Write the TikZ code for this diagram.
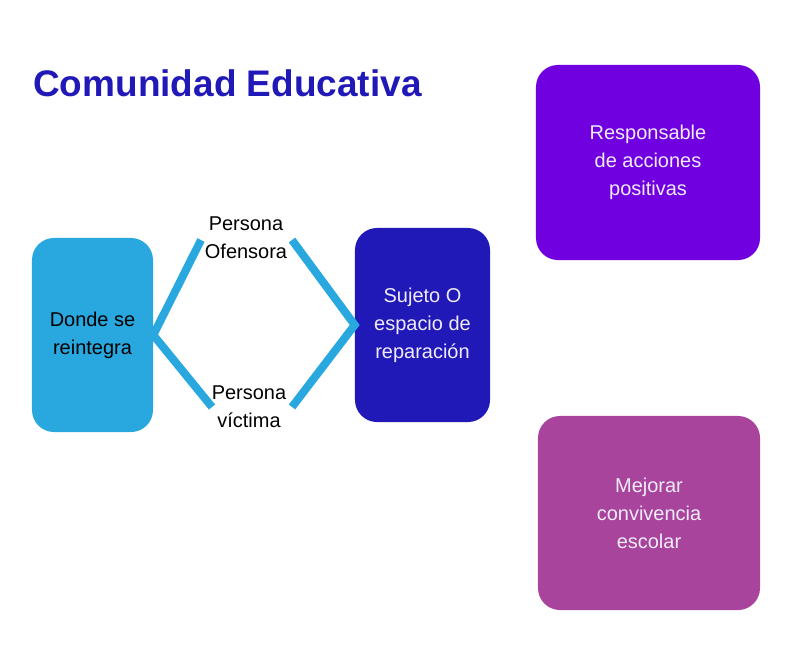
\documentclass[tikz,border=0pt]{standalone}
\usepackage{fontspec}
\setmainfont{Liberation Sans}
\usetikzlibrary{positioning}
\definecolor{ceblue}{HTML}{29A8E0}
\definecolor{ceindigo}{HTML}{2118B8}
\definecolor{ceviolet}{HTML}{7000E0}
\definecolor{ceplum}{HTML}{A8449C}
\definecolor{cetext}{HTML}{F0ECFA}

\begin{document}
\begin{tikzpicture}[
  x=0.025cm, y=-0.025cm,
  card/.style={rounded corners=0.55cm, minimum height=4.85cm, align=center,
               font=\fontsize{14.2}{19.9}\selectfont, inner sep=2pt},
  tag/.style={align=center, font=\fontsize{14.2}{19.9}\selectfont, inner sep=0pt},
  link/.style={line width=0.2cm, color=ceblue}
]
\useasboundingbox (0,0) rectangle (800,650);

% ── Title ─────────────────────────────────────────────────────
\node[anchor=base west, inner sep=0pt, text=ceindigo,
      font=\fontsize{26.3}{30}\selectfont\bfseries] (title) at (33,97) {Comunidad Educativa};

% ── Cards ─────────────────────────────────────────────────────
\node[card, fill=ceblue, minimum width=3.025cm] (donde) at (92.5,335) {Donde se\\reintegra};
\node[card, fill=ceindigo, text=cetext, minimum width=3.375cm] (sujeto) at (422.5,325) {Sujeto O\\espacio de\\reparación};
\node[card, fill=ceviolet, text=cetext, minimum width=5.6cm, minimum height=4.875cm] (resp) at (648,162.5) {Responsable\\de acciones\\positivas};
\node[card, fill=ceplum, text=cetext, minimum width=5.55cm] (mejora) at (649,513) {Mejorar\\convivencia\\escolar};

% ── Persons ───────────────────────────────────────────────────
\node[tag] (ofen) at (246,238) {Persona\\Ofensora};
\node[tag] (vict) at (249,407) {Persona\\víctima};
\coordinate (ofenL) at (201,240);
\coordinate (ofenR) at (292,240);
\coordinate (victL) at (212,407);
\coordinate (victR) at (292,407);

% ── Links ─────────────────────────────────────────────────────
\draw[link] (ofenL) -- (donde.east) -- (victL);
\draw[link] (ofenR) -- (sujeto.west) -- (victR);
\end{tikzpicture}
\end{document}
